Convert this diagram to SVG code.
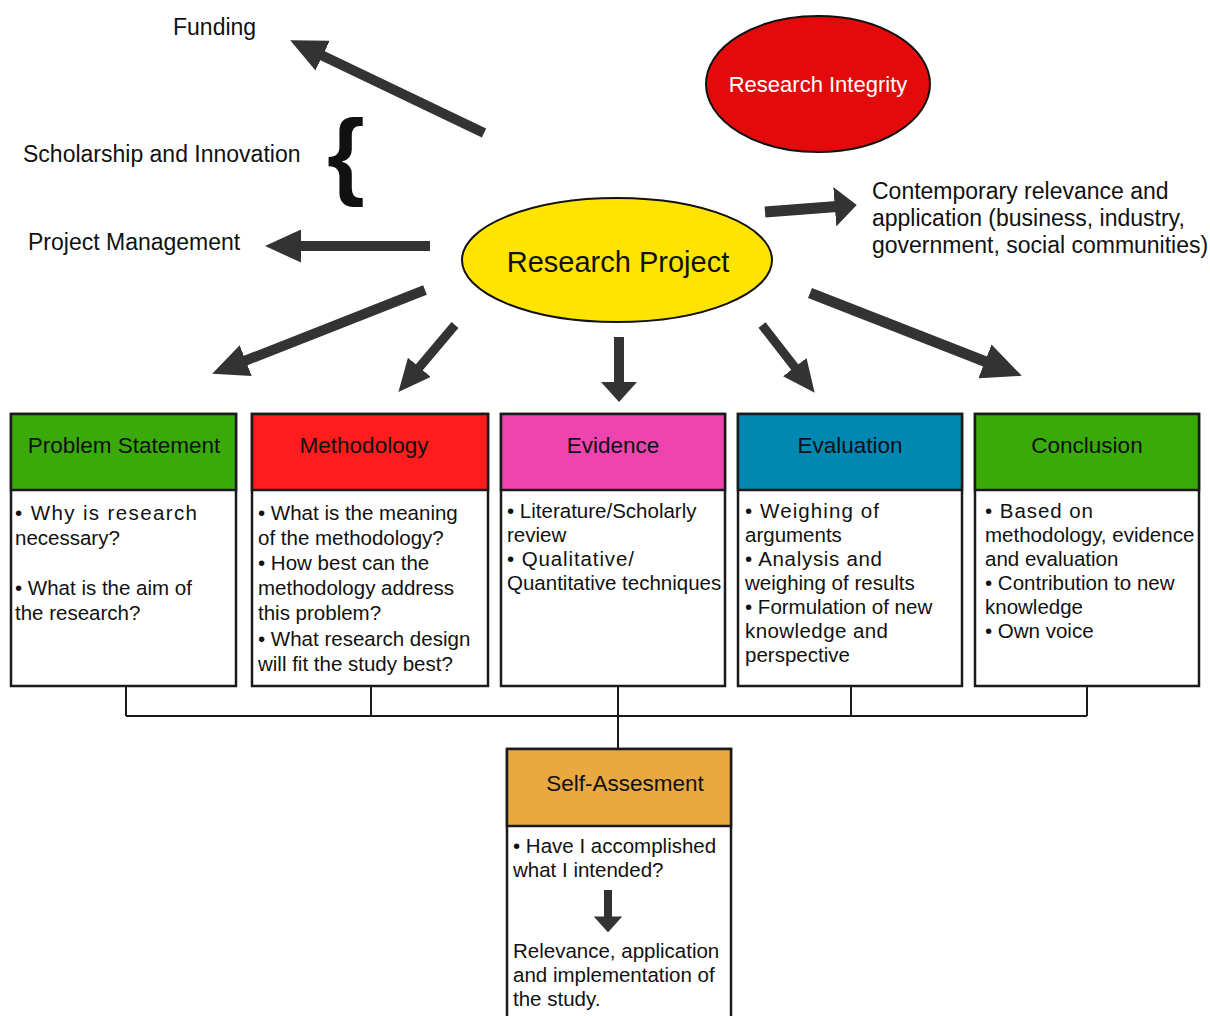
<svg xmlns="http://www.w3.org/2000/svg" width="1210" height="1016" viewBox="0 0 1210 1016">
<style>
text{font-family:"Liberation Sans",Arial,sans-serif;fill:#111}
.lbl{font-size:23px}
.hdr{font-size:22.5px;text-anchor:middle}
.body{font-size:20.5px}
.box{fill:#fff;stroke:#1a1a1a;stroke-width:2.5}
.ar{stroke:#333;fill:none;stroke-linecap:butt}
.con{stroke:#1a1a1a;stroke-width:2;fill:none}
</style>
<defs>
<marker id="hd" viewBox="0 0 36 32" refX="4" refY="16" markerWidth="3.6" markerHeight="3.3" preserveAspectRatio="none" orient="auto" markerUnits="strokeWidth"><path d="M0,0 L36,16 L0,32 z" fill="#333"/></marker>
<marker id="hs" viewBox="0 0 20 36" refX="2" refY="18" markerWidth="2" markerHeight="3.6" preserveAspectRatio="none" orient="auto" markerUnits="strokeWidth"><path d="M0,0 L20,18 L0,36 z" fill="#333"/></marker>
</defs>
<rect width="1210" height="1016" fill="#fff"/>

<g id="connectors">
<line class="ar" x1="484" y1="133" x2="319" y2="54" stroke-width="10" marker-end="url(#hd)"/>
<line class="ar" x1="430" y1="246" x2="297" y2="246" stroke-width="10" marker-end="url(#hd)"/>
<line class="ar" x1="765" y1="212" x2="837" y2="206.5" stroke-width="11" marker-end="url(#hs)"/>
<line class="ar" x1="425" y1="290" x2="242" y2="362" stroke-width="10" marker-end="url(#hd)"/>
<line class="ar" x1="455" y1="325" x2="417" y2="370" stroke-width="9" marker-end="url(#hd)"/>
<line class="ar" x1="619" y1="337" x2="619" y2="384" stroke-width="10" marker-end="url(#hs)"/>
<line class="ar" x1="762" y1="325" x2="797" y2="370" stroke-width="9" marker-end="url(#hd)"/>
<line class="ar" x1="810" y1="293" x2="989" y2="363" stroke-width="11" marker-end="url(#hd)"/>
<path class="con" d="M126,686 V716 M371,686 V716 M618,686 V749 M851,686 V716 M1087,686 V716 M126,716 H1087"/>
</g>

<g id="funding"><text class="lbl" x="173" y="35">Funding</text></g>
<g id="scholarship"><text class="lbl" x="23" y="162">Scholarship and Innovation</text>
<text x="327" y="187" style="font-size:97px;font-weight:bold">{</text></g>
<g id="project-management"><text class="lbl" x="28" y="250">Project Management</text></g>
<g id="contemporary">
<text class="lbl" x="872" y="199">Contemporary relevance and</text>
<text class="lbl" x="872" y="226">application (business, industry,</text>
<text class="lbl" x="872" y="253">government, social communities)</text>
</g>

<g id="research-integrity">
<ellipse cx="818" cy="84" rx="112" ry="68" fill="#e20a0a" stroke="#111" stroke-width="2"/>
<text x="818" y="92" style="font-size:22px;fill:#fff;text-anchor:middle">Research Integrity</text>
</g>

<g id="research-project">
<ellipse cx="617" cy="260" rx="155" ry="62" fill="#ffe400" stroke="#111" stroke-width="2"/>
<text x="618" y="272" style="font-size:29px;text-anchor:middle">Research Project</text>
</g>

<g id="problem-statement">
<rect class="box" x="11" y="414" width="225" height="272"/>
<rect x="11" y="414" width="225" height="76" fill="#3aaa0a" stroke="#1a1a1a" stroke-width="2.5"/>
<text class="hdr" x="124" y="453">Problem Statement</text>
<text class="body" x="15" y="520" textLength="182" lengthAdjust="spacing">• Why is research</text>
<text class="body" x="15" y="545">necessary?</text>
<text class="body" x="15" y="595">• What is the aim of</text>
<text class="body" x="15" y="620">the research?</text>
</g>

<g id="methodology">
<rect class="box" x="252" y="414" width="236" height="272"/>
<rect x="252" y="414" width="236" height="76" fill="#ff1c1c" stroke="#1a1a1a" stroke-width="2.5"/>
<text class="hdr" x="364" y="453">Methodology</text>
<text class="body" x="258" y="520">• What is the meaning</text>
<text class="body" x="258" y="545">of the methodology?</text>
<text class="body" x="258" y="570">• How best can the</text>
<text class="body" x="258" y="595">methodology address</text>
<text class="body" x="258" y="620">this problem?</text>
<text class="body" x="258" y="646">• What research design</text>
<text class="body" x="258" y="671">will fit the study best?</text>
</g>

<g id="evidence">
<rect class="box" x="501" y="414" width="224" height="272"/>
<rect x="501" y="414" width="224" height="76" fill="#ee44b0" stroke="#1a1a1a" stroke-width="2.5"/>
<text class="hdr" x="613" y="453">Evidence</text>
<text class="body" x="507" y="518">• Literature/Scholarly</text>
<text class="body" x="507" y="542">review</text>
<text class="body" x="507" y="566" textLength="127" lengthAdjust="spacing">• Qualitative/</text>
<text class="body" x="507" y="590">Quantitative techniques</text>
</g>

<g id="evaluation">
<rect class="box" x="738" y="414" width="224" height="272"/>
<rect x="738" y="414" width="224" height="76" fill="#0088b2" stroke="#1a1a1a" stroke-width="2.5"/>
<text class="hdr" x="850" y="453">Evaluation</text>
<text class="body" x="745" y="518" textLength="134" lengthAdjust="spacing">• Weighing of</text>
<text class="body" x="745" y="542">arguments</text>
<text class="body" x="745" y="566" textLength="137" lengthAdjust="spacing">• Analysis and</text>
<text class="body" x="745" y="590">weighing of results</text>
<text class="body" x="745" y="614">• Formulation of new</text>
<text class="body" x="745" y="638" textLength="143" lengthAdjust="spacing">knowledge and</text>
<text class="body" x="745" y="662">perspective</text>
</g>

<g id="conclusion">
<rect class="box" x="975" y="414" width="224" height="272"/>
<rect x="975" y="414" width="224" height="76" fill="#3aaa0a" stroke="#1a1a1a" stroke-width="2.5"/>
<text class="hdr" x="1087" y="453">Conclusion</text>
<text class="body" x="985" y="518" textLength="108" lengthAdjust="spacing">• Based on</text>
<text class="body" x="985" y="542">methodology, evidence</text>
<text class="body" x="985" y="566">and evaluation</text>
<text class="body" x="985" y="590">• Contribution to new</text>
<text class="body" x="985" y="614">knowledge</text>
<text class="body" x="985" y="638">• Own voice</text>
</g>

<g id="self-assesment">
<rect class="box" x="507" y="749" width="224" height="280"/>
<rect x="507" y="749" width="224" height="77" fill="#eaa840" stroke="#1a1a1a" stroke-width="2.5"/>
<text class="hdr" x="625" y="791">Self-Assesment</text>
<text class="body" x="513" y="853">• Have I accomplished</text>
<text class="body" x="513" y="877">what I intended?</text>
<line class="ar" x1="608" y1="890" x2="608" y2="918" stroke-width="8" marker-end="url(#hs)"/>
<text class="body" x="513" y="958">Relevance, application</text>
<text class="body" x="513" y="982">and implementation of</text>
<text class="body" x="513" y="1006">the study.</text>
</g>
</svg>
